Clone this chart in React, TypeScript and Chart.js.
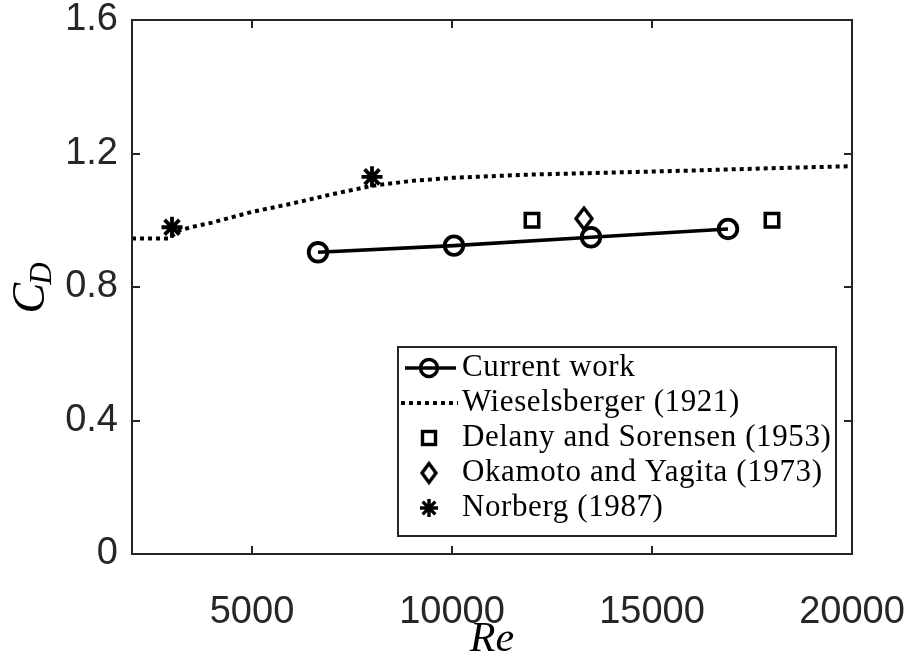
import { useEffect, useRef } from "react";
import { Chart, registerables } from "chart.js";

Chart.register(...registerables);

// ---- data ----
const currentRe = [6650, 10050, 13475, 16900];
const currentCd = [0.904, 0.924, 0.949, 0.974];
const wieselRe = [2000, 2900, 3200, 3500, 4000, 5000, 6000, 7000, 8000, 9000, 10000, 12000, 14000, 16000, 18000, 20000];
const wieselCd = [0.945, 0.945, 0.97, 0.98, 0.993, 1.025, 1.05, 1.078, 1.103, 1.118, 1.127, 1.137, 1.143, 1.149, 1.156, 1.162];
const delanyRe = [12000, 18000];
const delanyCd = [1.0, 1.0];
const okamotoRe = [13300];
const okamotoCd = [1.005];
const norbergRe = [3000, 8000];
const norbergCd = [0.979, 1.13];
const xTicks = [5000, 10000, 15000, 20000];
const yTicks = [0, 0.4, 0.8, 1.2, 1.6];
const seriesLabels = [
  "Current work",
  "Wieselsberger (1921)",
  "Delany and Sorensen (1953)",
  "Okamoto and Yagita (1973)",
  "Norberg (1987)",
];
const xTitle = "Re";
const yTitleMain = "C";
const yTitleSub = "D";

const AXIS = "#262626";

function pts(xs: number[], ys: number[]) {
  return xs.map((x, i) => ({ x, y: ys[i] }));
}

function makeDiamond(w: number, h: number, lw: number): HTMLCanvasElement {
  const pad = 6;
  const c = document.createElement("canvas");
  c.width = w + pad * 2;
  c.height = h + pad * 2;
  const ctx = c.getContext("2d")!;
  ctx.strokeStyle = "#000";
  ctx.lineWidth = lw;
  ctx.lineJoin = "miter";
  const cx = c.width / 2, cy = c.height / 2;
  ctx.beginPath();
  ctx.moveTo(cx, cy - h / 2);
  ctx.lineTo(cx + w / 2, cy);
  ctx.lineTo(cx, cy + h / 2);
  ctx.lineTo(cx - w / 2, cy);
  ctx.closePath();
  ctx.stroke();
  return c;
}

export default function App() {
  const ref = useRef<HTMLCanvasElement>(null);

  useEffect(() => {
    const canvas = ref.current!;
    const diamond = makeDiamond(16, 21, 3.4);
    const legendDiamond = makeDiamond(14, 19, 3.4);

    const framePlugin = {
      id: "frame",
      afterDraw(chart: any) {
        const { ctx, chartArea } = chart;
        const { left, right, top, bottom } = chartArea;
        const xs = chart.scales.x;
        const ys = chart.scales.y;
        ctx.save();
        ctx.strokeStyle = AXIS;
        ctx.lineWidth = 2;
        ctx.strokeRect(left, top, right - left, bottom - top);
        const tl = 8;
        ctx.beginPath();
        xTicks.forEach((v) => {
          const px = Math.round(xs.getPixelForValue(v));
          ctx.moveTo(px, bottom);
          ctx.lineTo(px, bottom - tl);
          ctx.moveTo(px, top);
          ctx.lineTo(px, top + tl);
        });
        yTicks.forEach((v) => {
          const py = Math.round(ys.getPixelForValue(v));
          ctx.moveTo(left, py);
          ctx.lineTo(left + tl, py);
          ctx.moveTo(right, py);
          ctx.lineTo(right - tl, py);
        });
        ctx.stroke();

        // axis titles
        ctx.fillStyle = "#000";
        ctx.textBaseline = "middle";
        ctx.textAlign = "center";
        ctx.font = 'italic 42px "Liberation Serif"';
        ctx.fillText(xTitle, (left + right) / 2, 640);

        ctx.save();
        ctx.translate(30, 287);
        ctx.rotate(-Math.PI / 2);
        ctx.font = 'italic 46px "Liberation Serif"';
        const wC = ctx.measureText(yTitleMain).width;
        ctx.font = 'italic 31px "Liberation Serif"';
        const wD = ctx.measureText(yTitleSub).width;
        const start = -(wC + wD) / 2;
        ctx.textAlign = "left";
        ctx.textBaseline = "alphabetic";
        ctx.font = 'italic 46px "Liberation Serif"';
        ctx.fillText(yTitleMain, start, 14);
        ctx.font = 'italic 31px "Liberation Serif"';
        ctx.fillText(yTitleSub, start + wC - 2, 21);
        ctx.restore();
        ctx.restore();
      },
      afterDatasetsDraw(chart: any) {
        const { ctx } = chart;
        const bx = 398, by = 347, bw = 438, bh = 189;
        ctx.save();
        ctx.fillStyle = "#fff";
        ctx.fillRect(bx, by, bw, bh);
        ctx.strokeStyle = AXIS;
        ctx.lineWidth = 2;
        ctx.strokeRect(bx, by, bw, bh);
        const rows = [368, 403, 438, 473, 508];
        const sx0 = 405, sx1 = 456, sc = 429;
        ctx.strokeStyle = "#000";
        ctx.lineCap = "butt";
        // row 0: line + circle
        ctx.lineWidth = 3.5;
        ctx.beginPath();
        ctx.moveTo(sx0, rows[0]);
        ctx.lineTo(sx1, rows[0]);
        ctx.stroke();
        ctx.beginPath();
        ctx.arc(sc, rows[0], 8.5, 0, Math.PI * 2);
        ctx.stroke();
        // row 1: dotted
        ctx.lineWidth = 4;
        ctx.setLineDash([4, 4]);
        ctx.beginPath();
        ctx.moveTo(sx0 - 4, rows[1]);
        ctx.lineTo(sx1 + 2, rows[1]);
        ctx.stroke();
        ctx.setLineDash([]);
        // row 2: square
        ctx.lineWidth = 3.4;
        ctx.strokeRect(sc - 6.5, rows[2] - 6.5, 13, 13);
        // row 3: diamond
        ctx.drawImage(legendDiamond, sc - legendDiamond.width / 2, rows[3] - legendDiamond.height / 2);
        // row 4: asterisk
        ctx.lineWidth = 3.4;
        ctx.beginPath();
        for (let k = 0; k < 4; k++) {
          const a = (k * Math.PI) / 4;
          const r = 9;
          ctx.moveTo(sc - Math.cos(a) * r, rows[4] - Math.sin(a) * r);
          ctx.lineTo(sc + Math.cos(a) * r, rows[4] + Math.sin(a) * r);
        }
        ctx.stroke();
        // texts
        ctx.fillStyle = "#000";
        ctx.font = '31px "Liberation Serif"';
        (ctx as any).letterSpacing = "0.6px";
        ctx.textAlign = "left";
        ctx.textBaseline = "middle";
        seriesLabels.forEach((t, i) => ctx.fillText(t, 462, rows[i]));
        ctx.restore();
      },
    };

    const chart = new Chart(canvas, {
      type: "scatter",
      data: {
        datasets: [
          {
            label: seriesLabels[0],
            data: pts(currentRe, currentCd),
            showLine: true,
            borderColor: "#000",
            borderWidth: 3.6,
            pointStyle: "circle",
            pointRadius: 9.3,
            pointBorderWidth: 3.8,
            pointBorderColor: "#000",
            pointBackgroundColor: "rgba(0,0,0,0)",
            tension: 0,
          },
          {
            label: seriesLabels[1],
            data: pts(wieselRe, wieselCd),
            showLine: true,
            borderColor: "#000",
            borderWidth: 4,
            borderDash: [4, 4],
            borderCapStyle: "butt",
            pointRadius: 0,
            tension: 0,
          },
          {
            label: seriesLabels[2],
            data: pts(delanyRe, delanyCd),
            showLine: false,
            pointStyle: "rect",
            pointRadius: 9.5,
            pointBorderWidth: 3.5,
            pointBorderColor: "#000",
            pointBackgroundColor: "rgba(0,0,0,0)",
          },
          {
            label: seriesLabels[3],
            data: pts(okamotoRe, okamotoCd),
            showLine: false,
            pointStyle: diamond as any,
            pointRadius: 10,
            pointBorderColor: "#000",
            pointBackgroundColor: "rgba(0,0,0,0)",
          },
          {
            label: seriesLabels[4],
            data: pts(norbergRe, norbergCd),
            showLine: false,
            pointStyle: "star",
            pointRadius: 10.5,
            pointBorderWidth: 3.8,
            pointBorderColor: "#000",
            pointBackgroundColor: "rgba(0,0,0,0)",
          },
        ],
      },
      options: {
        animation: false,
        responsive: true,
        maintainAspectRatio: false,
        events: [],
        layout: { padding: { top: 20, right: 58, left: 0, bottom: 0 } },
        plugins: {
          legend: { display: false },
          tooltip: { enabled: false },
        },
        scales: {
          x: {
            type: "linear",
            min: 2000,
            max: 20000,
            afterBuildTicks: (s: any) => {
              s.ticks = xTicks.map((v) => ({ value: v }));
            },
            afterFit: (s: any) => {
              s.height = 103;
              s.paddingLeft = 0;
              s.paddingRight = 0;
              s.paddingTop = 0;
              s.paddingBottom = 0;
            },
            grid: { display: false, drawTicks: false },
            border: { display: false },
            ticks: {
              color: AXIS,
              padding: 40,
              maxRotation: 0,
              autoSkip: false,
              font: { family: '"Liberation Sans"', size: 38, lineHeight: 1 },
              callback: (v: any) => String(v),
            },
          },
          y: {
            type: "linear",
            min: 0,
            max: 1.6,
            afterBuildTicks: (s: any) => {
              s.ticks = yTicks.map((v) => ({ value: v }));
            },
            afterFit: (s: any) => {
              s.width = 132;
              s.paddingLeft = 0;
              s.paddingRight = 0;
              s.paddingTop = 0;
              s.paddingBottom = 0;
            },
            grid: { display: false, drawTicks: false },
            border: { display: false },
            ticks: {
              color: AXIS,
              padding: 14,
              autoSkip: false,
              font: { family: '"Liberation Sans"', size: 38, lineHeight: 1 },
              callback: (v: any) => (v === 0 ? "0" : Number(v).toFixed(1)),
            },
          },
        },
      },
      plugins: [framePlugin],
    });
    return () => chart.destroy();
  }, []);

  return (
    <div style={{ position: "fixed", left: 0, top: 0, width: 910, height: 657, background: "#fff" }}>
      <canvas ref={ref} />
    </div>
  );
}
